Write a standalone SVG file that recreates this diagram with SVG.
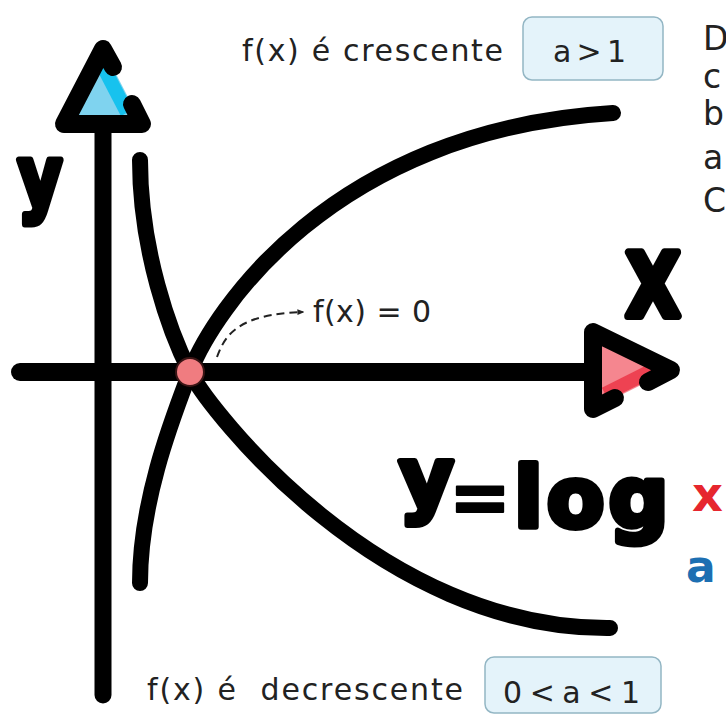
<svg xmlns="http://www.w3.org/2000/svg" width="726" height="718" viewBox="0 0 726 718">
<defs>
<style>
.ax{stroke:#000;fill:none;stroke-linecap:round;stroke-linejoin:round}
.curve{stroke:#000;stroke-width:16;fill:none;stroke-linecap:round}
.hand{font-family:"DejaVu Sans","Noto Sans",sans-serif;fill:#222;font-size:30px}
.big{font-family:"DejaVu Sans","Liberation Sans",sans-serif;font-weight:bold;fill:#000;stroke:#000;stroke-linejoin:round}
.box{fill:#e4f3fa;stroke:#93b6c4;stroke-width:1.5}
.side{font-family:"DejaVu Sans","Noto Sans",sans-serif;fill:#222;font-size:33px}
</style>
<marker id="ah" viewBox="0 0 10 10" refX="8" refY="5" markerWidth="7" markerHeight="7" orient="auto" markerUnits="userSpaceOnUse">
<path d="M0,1 L10,5 L0,9 Z" fill="#222"/>
</marker>
</defs>
<rect width="726" height="718" fill="#fff"/>

<g id="curves">
<path id="curve-a-gt-1" class="curve" d="M140,583 C140,500 173,417 190,372 C212,314 330,130 613,113"/>
<path id="curve-a-lt-1" class="curve" d="M140,160 C140,250 170,333 190,372 C210,411 380,630 610,628"/>
</g>

<g id="y-axis">
<line class="ax" x1="103" y1="124" x2="103" y2="695" stroke-width="17"/>
<polygon points="64,124 103,49 142,124" fill="#7fd3ef"/>
<line x1="103.7" y1="67.7" x2="127.1" y2="112.7" stroke="#17c2ee" stroke-width="14"/>
<path class="ax" stroke-width="18" d="M113,67 L103,49 L64,124 L142,124 L132,104"/>
<text class="big" x="18" y="206" font-size="83" stroke-width="7" textLength="44" lengthAdjust="spacingAndGlyphs">y</text>
</g>

<g id="x-axis">
<line class="ax" x1="20" y1="372" x2="593" y2="372" stroke-width="18"/>
<polygon points="593,332 593,409 671,370" fill="#f5868f"/>
<line x1="605" y1="394" x2="651.8" y2="370.6" stroke="#ee4252" stroke-width="14"/>
<path class="ax" stroke-width="18" d="M615,398 L593,409 L593,332 L671,370 L648,382"/>
<text class="big" x="626" y="316" font-size="88" stroke-width="8" textLength="54" lengthAdjust="spacingAndGlyphs">X</text>
</g>

<g id="connectors">
<path d="M217,357 C225,335 238,314 303,312" fill="none" stroke="#222" stroke-width="2" stroke-dasharray="8 5" marker-end="url(#ah)"/>
</g>

<g id="root-point">
<circle cx="190" cy="372" r="14" fill="#f07c80" stroke="#3a1515" stroke-width="2"/>
<text class="hand" x="313" y="322" textLength="118">f(x) = 0</text>
</g>

<g id="label-increasing">
<text class="hand" x="242" y="61" textLength="261">f(x) é crescente</text>
<rect class="box" x="523" y="17" width="140" height="63" rx="9"/>
<text class="hand" x="553" y="62" textLength="73">a &gt; 1</text>
</g>

<g id="label-decreasing">
<text class="hand" x="147" y="700" textLength="316" style="white-space:pre">f(x) é  decrescente</text>
<rect class="box" x="485" y="657" width="176" height="56" rx="9"/>
<text class="hand" x="503" y="703" textLength="137">0 &lt; a &lt; 1</text>
</g>

<g id="formula">
<text class="big" stroke-width="6"><tspan x="399" y="507" font-size="84">y</tspan><tspan x="449" y="523" font-size="74" stroke-width="2">=</tspan><tspan x="514" y="527" font-size="84" letter-spacing="4">log</tspan></text>
<text x="692" y="511" font-family="DejaVu Sans, sans-serif" font-weight="bold" font-size="48" fill="#e6262e">x</text>
<text x="686" y="582" font-family="DejaVu Sans, sans-serif" font-weight="bold" font-size="44" fill="#1c6fb2">a</text>
</g>

<g id="side-text">
<text class="side" x="703" y="50">D</text>
<text class="side" x="703" y="88">c</text>
<text class="side" x="703" y="125">b</text>
<text class="side" x="703" y="169">a</text>
<text class="side" x="703" y="212">C</text>
</g>
</svg>
